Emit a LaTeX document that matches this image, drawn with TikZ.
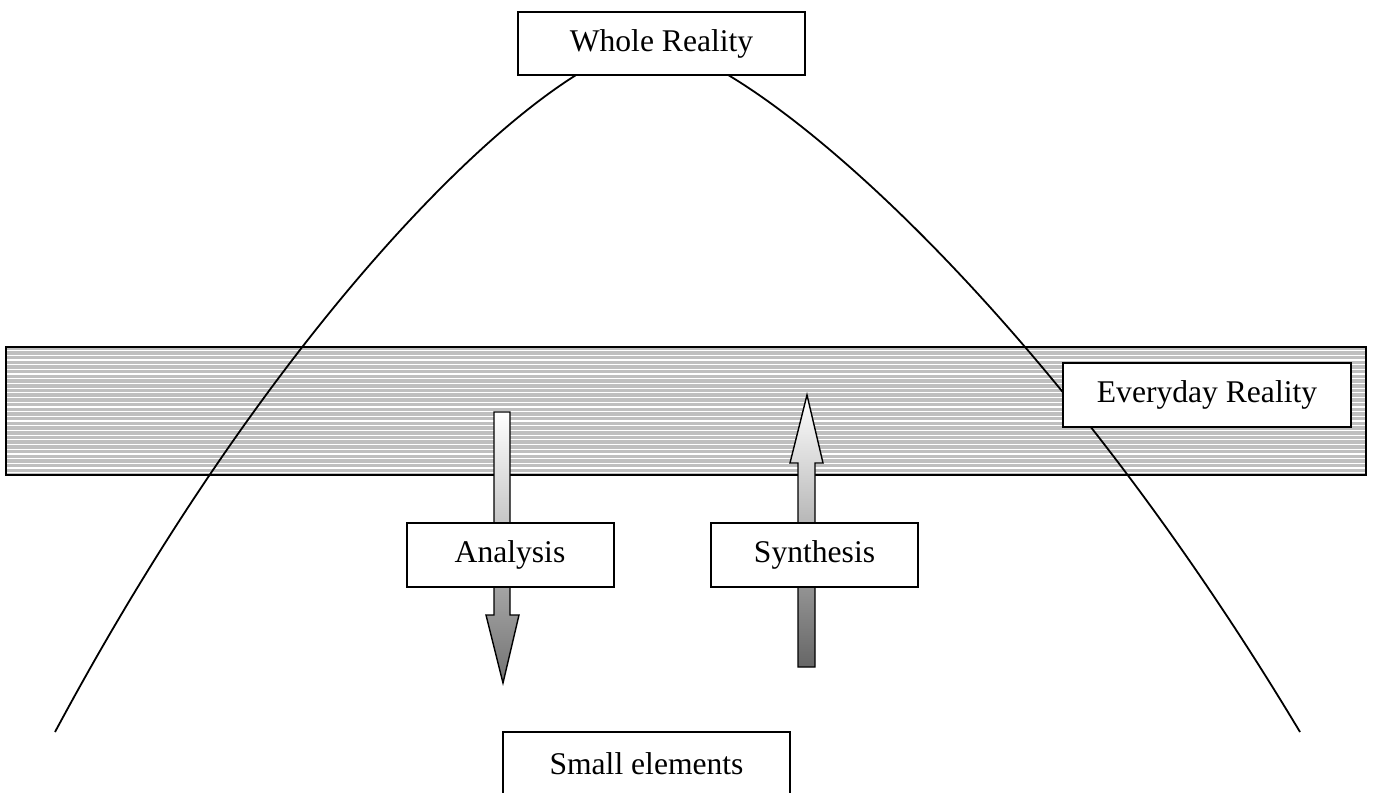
\documentclass[tikz,border=0pt]{standalone}
\usepackage{fontspec}
\setmainfont{Liberation Serif}
\begin{document}
\begin{tikzpicture}[x=0.5pt,y=-0.5pt,
  labelbox/.style={draw,fill=white,line width=1pt,minimum width=103.5pt,
    minimum height=32pt,inner sep=0pt,font=\fontsize{15.8}{18}\selectfont}]
  \useasboundingbox (0,0) rectangle (1374,792);
  % Everyday band with horizontal hatching
  \fill[gray!50] (6,347) rectangle (1366,475);
  \foreach \y in {350.5,355.2,...,474}
    \draw[white,line width=0.6pt] (7,\y) -- (1365,\y);
  \draw[line width=1pt] (6,347) rectangle (1366,475);
  % Bell curve
  \coordinate (peak) at (652,45);
  \draw[line width=0.9pt] (55,732) .. controls (300,275) and (565,45) .. (peak)
    .. controls (732,45) and (1024,272) .. (1300,732);
  % Analysis arrow (down)
  \draw[line width=0.7pt,top color=white,bottom color=black!55]
    (494,412) -- (510,412) -- (510,615) -- (519,615) -- (503,683)
    -- (486,615) -- (494,615) -- cycle;
  % Synthesis arrow (up)
  \draw[line width=0.7pt,top color=white,bottom color=black!60]
    (798,667) -- (815,667) -- (815,463) -- (823,463) -- (807,395)
    -- (790,463) -- (798,463) -- cycle;
  % Labels
  \node[labelbox,minimum width=143.5pt,minimum height=31.5pt] (whole) at (661.5,43.5) {Whole Reality};
  \node[labelbox,minimum width=144pt] (everyday) at (1207,395) {Everyday Reality};
  \node[labelbox] (analysis) at (510,555) {Analysis};
  \node[labelbox] (synthesis) at (814.5,555) {Synthesis};
  \node[labelbox,minimum width=143.5pt] (small) at (646.5,764) {Small elements};
\end{tikzpicture}
\end{document}
